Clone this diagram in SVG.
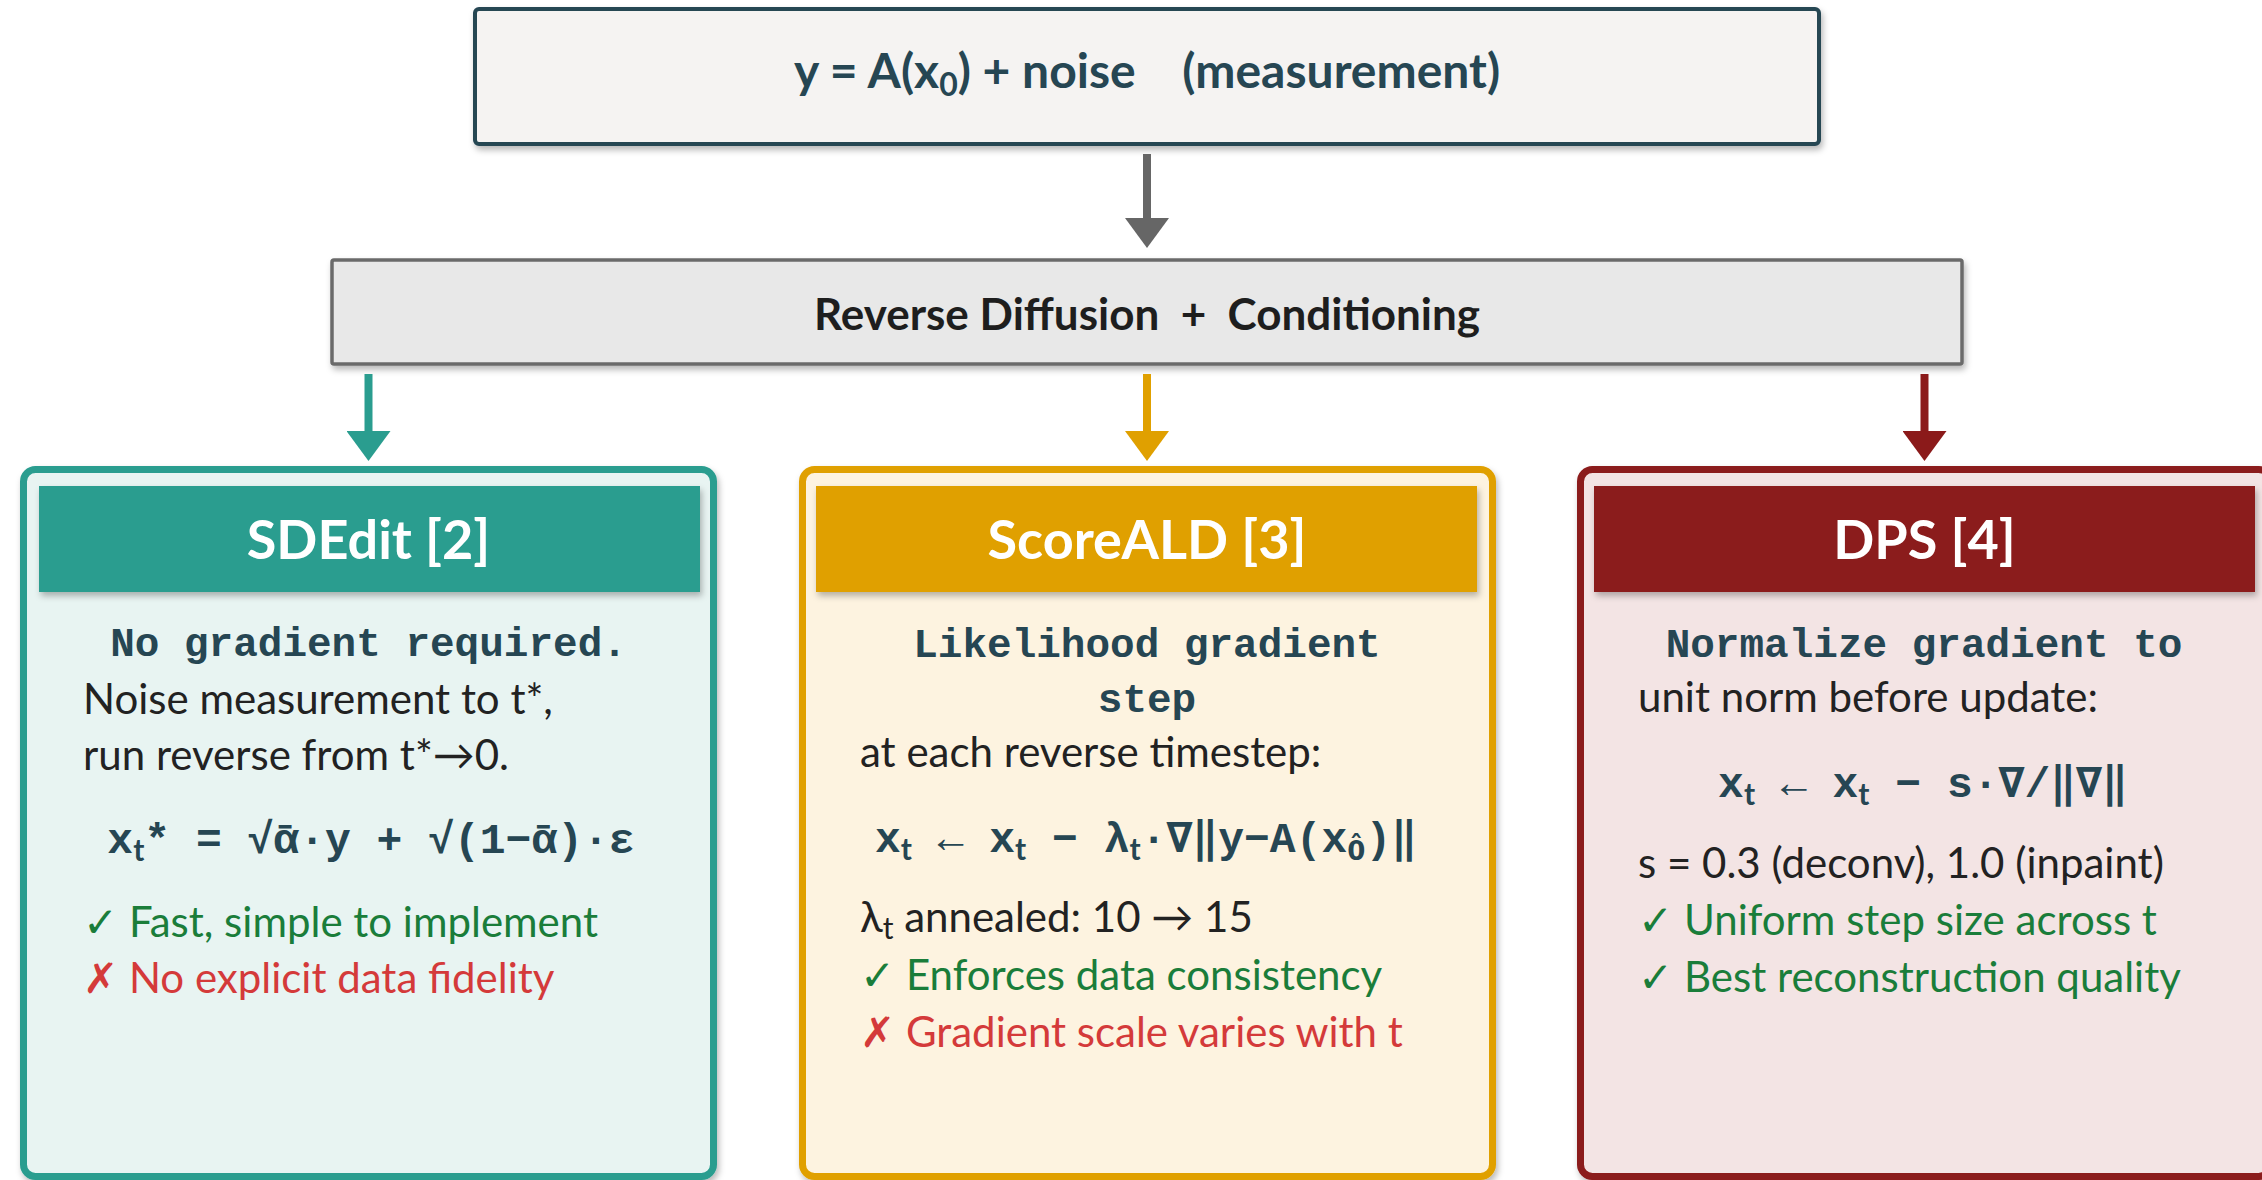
<svg xmlns="http://www.w3.org/2000/svg" width="2262" height="1180" viewBox="0 0 2262 1180">
<defs>
<filter id="sh" x="-5%" y="-5%" width="110%" height="120%">
<feDropShadow dx="2" dy="4" stdDeviation="3" flood-color="#000" flood-opacity="0.28"/>
</filter>
<marker id="hGray" viewBox="0 0 30 44" markerWidth="30" markerHeight="44" refX="0" refY="22" orient="auto" markerUnits="userSpaceOnUse"><path d="M0,0 L30,22 L0,44 z" fill="#666666"/></marker>
<marker id="hTeal" viewBox="0 0 30 44" markerWidth="30" markerHeight="44" refX="0" refY="22" orient="auto" markerUnits="userSpaceOnUse"><path d="M0,0 L30,22 L0,44 z" fill="#2a9d8f"/></marker>
<marker id="hGold" viewBox="0 0 30 44" markerWidth="30" markerHeight="44" refX="0" refY="22" orient="auto" markerUnits="userSpaceOnUse"><path d="M0,0 L30,22 L0,44 z" fill="#e0a000"/></marker>
<marker id="hRed" viewBox="0 0 30 44" markerWidth="30" markerHeight="44" refX="0" refY="22" orient="auto" markerUnits="userSpaceOnUse"><path d="M0,0 L30,22 L0,44 z" fill="#8b1a1a"/></marker>
</defs>
<style>
.sans{font-family:Lato,"Open Sans","Liberation Sans",sans-serif}
.mono{font-family:"Liberation Mono","DejaVu Sans Mono",monospace;font-weight:bold;fill:#264653}
.body{font-family:Lato,"Open Sans","Liberation Sans",sans-serif;font-size:42px;fill:#222222}
.ok{font-family:Lato,"DejaVu Sans",sans-serif;font-size:42px;fill:#1a7d3a}
.bad{font-family:Lato,"DejaVu Sans",sans-serif;font-size:42px;fill:#d43a3a}
.hdr{font-family:Lato,"Open Sans",sans-serif;font-weight:bold;font-size:54px;fill:#ffffff}
.sub{font-family:Lato,"Open Sans",sans-serif;font-size:30px}
.hat{font-family:"DejaVu Sans",sans-serif;font-size:26px}
.f41{font-size:41px}
.f43{font-size:43px}
</style>
<rect width="2262" height="1180" fill="#ffffff"/>

<g id="measurement">
<rect x="475" y="9" width="1344" height="135" rx="4" fill="#f5f3f2" stroke="#264653" stroke-width="4" filter="url(#sh)"/>
<text class="sans" x="1147" y="88" text-anchor="middle" font-size="48" font-weight="bold" fill="#264653" xml:space="preserve">y = A(x<tspan font-size="32" dy="8">0</tspan><tspan dy="-8">) + noise    (measurement)</tspan></text>
</g>

<g id="reverse">
<rect x="332" y="260" width="1630" height="104" rx="2" fill="#e8e8e8" stroke="#6b6b6b" stroke-width="3.5" filter="url(#sh)"/>
<text class="sans" x="1147" y="330" text-anchor="middle" font-size="44" font-weight="bold" fill="#1e1e1e" xml:space="preserve">Reverse Diffusion  +  Conditioning</text>
</g>

<g id="connectors" stroke-width="8">
<line x1="1147" y1="154" x2="1147" y2="218" stroke="#666666" marker-end="url(#hGray)"/>
<line x1="368.5" y1="374" x2="368.5" y2="431" stroke="#2a9d8f" marker-end="url(#hTeal)"/>
<line x1="1147" y1="374" x2="1147" y2="431" stroke="#e0a000" marker-end="url(#hGold)"/>
<line x1="1924.5" y1="374" x2="1924.5" y2="431" stroke="#8b1a1a" marker-end="url(#hRed)"/>
</g>

<g id="sdedit">
<rect x="23.5" y="469.5" width="690" height="707" rx="12" fill="#e8f4f2" stroke="#2a9d8f" stroke-width="7" filter="url(#sh)"/>
<rect x="39" y="486" width="661" height="106" fill="#2a9d8f" filter="url(#sh)"/>
<text class="hdr" x="368.5" y="559" text-anchor="middle">SDEdit [2]</text>
<text class="mono f41" x="368.5" y="656" text-anchor="middle">No gradient required.</text>
<text class="body" x="83" y="714">Noise measurement to t*,</text>
<text class="body" x="83" y="770">run reverse from t*→0.</text>
<text class="mono f43" x="371" y="853" text-anchor="middle" xml:space="preserve">x<tspan class="sub" dy="8">t</tspan><tspan dy="-8">* = √ᾱ·y + √(1−ᾱ)·ε</tspan></text>
<text class="ok" x="83" y="937">✓ Fast, simple to implement</text>
<text class="bad" x="83" y="993">✗ No explicit data fidelity</text>
</g>

<g id="scoreald">
<rect x="802.5" y="469.5" width="690" height="707" rx="12" fill="#fdf3e0" stroke="#e0a000" stroke-width="7" filter="url(#sh)"/>
<rect x="816" y="486" width="661" height="106" fill="#e0a000" filter="url(#sh)"/>
<text class="hdr" x="1147" y="559" text-anchor="middle">ScoreALD [3]</text>
<text class="mono f41" x="1147" y="657" text-anchor="middle">Likelihood gradient</text>
<text class="mono f41" x="1147" y="712" text-anchor="middle">step</text>
<text class="body" x="860" y="767">at each reverse timestep:</text>
<text class="mono f43" x="1146" y="852" text-anchor="middle" xml:space="preserve">x<tspan class="sub" dy="8">t</tspan><tspan dy="-8"> ← x</tspan><tspan class="sub" dy="8">t</tspan><tspan dy="-8"> − λ</tspan><tspan class="sub" dy="8">t</tspan><tspan dy="-8">·∇‖y−A(x</tspan><tspan class="hat" dy="8">0̂</tspan><tspan dy="-8">)‖</tspan></text>
<text class="body" x="860" y="932">λ<tspan font-size="30" dy="7">t</tspan><tspan dy="-7"> annealed: 10 → 15</tspan></text>
<text class="ok" x="860" y="990">✓ Enforces data consistency</text>
<text class="bad" x="860" y="1047">✗ Gradient scale varies with t</text>
</g>

<g id="dps">
<rect x="1580.5" y="469.5" width="690" height="707" rx="12" fill="#f3e4e4" stroke="#8b1a1a" stroke-width="7" filter="url(#sh)"/>
<rect x="1594" y="486" width="661" height="106" fill="#8b1a1a" filter="url(#sh)"/>
<text class="hdr" x="1924.5" y="559" text-anchor="middle">DPS [4]</text>
<text class="mono f41" x="1924" y="657" text-anchor="middle">Normalize gradient to</text>
<text class="body" x="1638" y="712">unit norm before update:</text>
<text class="mono f43" x="1923" y="797" text-anchor="middle" xml:space="preserve">x<tspan class="sub" dy="8">t</tspan><tspan dy="-8"> ← x</tspan><tspan class="sub" dy="8">t</tspan><tspan dy="-8"> − s·∇/‖∇‖</tspan></text>
<text class="body" x="1638" y="878">s = 0.3 (deconv), 1.0 (inpaint)</text>
<text class="ok" x="1638" y="935">✓ Uniform step size across t</text>
<text class="ok" x="1638" y="992">✓ Best reconstruction quality</text>
</g>
</svg>
